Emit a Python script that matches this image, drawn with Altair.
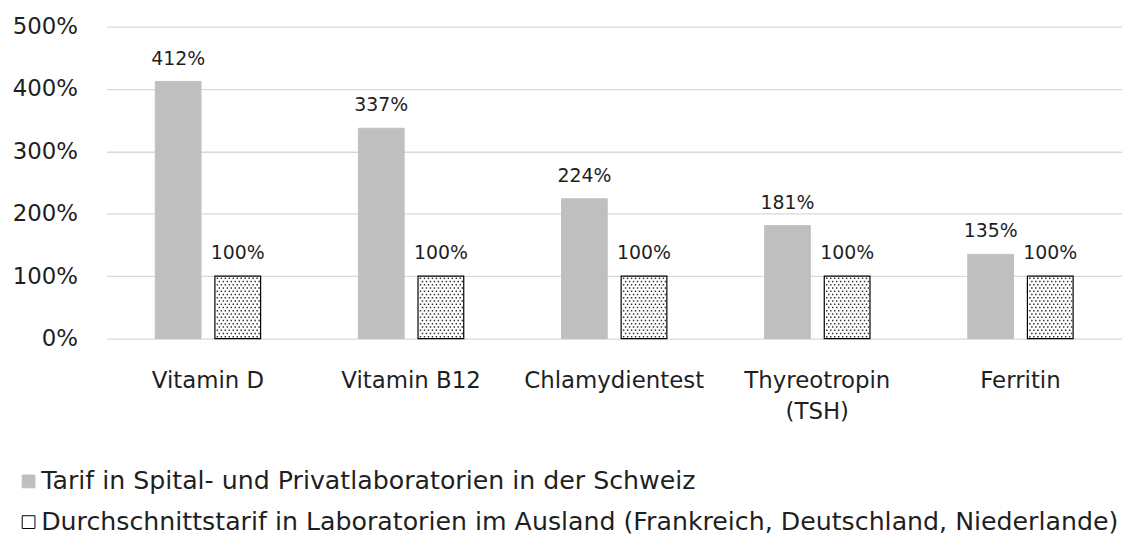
import altair as alt
import pandas as pd

categories = ["Vitamin D", "Vitamin B12", "Chlamydientest", "Thyreotropin (TSH)", "Ferritin"]
series = [
    "Tarif in Spital- und Privatlaboratorien in der Schweiz",
    "Durchschnittstarif in Laboratorien im Ausland (Frankreich, Deutschland, Niederlande)",
]
swiss = [4.12, 3.37, 2.24, 1.81, 1.35]
abroad = [1.00, 1.00, 1.00, 1.00, 1.00]
y_ticks = [0, 1, 2, 3, 4, 5]

FONT = "DejaVu Sans"
TEXT = "#1f1f1f"
PLOT_W = 1022
PLOT_H = 314
BAR_W = 46
OFF = 30

rows = []
for c, a, b in zip(categories, swiss, abroad):
    rows.append({"cat": c, "series": series[0], "value": a})
    rows.append({"cat": c, "series": series[1], "value": b})
df = pd.DataFrame(rows)

# stipple texture for the foreign-tariff bars (derived from the bar values)
band = PLOT_W / len(categories)
dots = []
for i, b in enumerate(abroad):
    r = 0
    yv = 0.03
    while yv < b - 0.02:
        px = 9.5 if r % 2 == 0 else 11.5
        while px <= 51.5:
            dots.append({"xq": i + 0.5 + px / band, "value": yv})
            px += 4
        yv += 0.052
        r += 1
dots_df = pd.DataFrame(dots)

x_enc = alt.X(
    "cat:N",
    sort=categories,
    title=None,
    scale=alt.Scale(paddingInner=0, paddingOuter=0),
    axis=alt.Axis(
        labelAngle=0,
        ticks=False,
        domain=False,
        labelPadding=31,
        labelFontSize=23,
        labelFont=FONT,
        labelColor=TEXT,
        labelLineHeight=31,
        labelLimit=0,
        labelExpr="datum.label == 'Thyreotropin (TSH)' ? ['Thyreotropin', '(TSH)'] : datum.label",
    ),
)
y_enc = alt.Y(
    "value:Q",
    title=None,
    scale=alt.Scale(domain=[0, 5], nice=False),
    axis=alt.Axis(
        values=y_ticks,
        format=".0%",
        ticks=False,
        tickSize=0,
        domain=False,
        labelPadding=29,
        labelFontSize=23,
        labelFont=FONT,
        labelColor=TEXT,
        gridColor="#d9d9d9",
        gridWidth=1.3,
    ),
)
leg = alt.Legend(
    title=None,
    orient="none",
    legendX=-91,
    legendY=445,
    direction="vertical",
    symbolType="square",
    symbolSize=165,
    symbolStrokeWidth=1,
    labelFontSize=25.4,
    labelFont=FONT,
    labelColor=TEXT,
    labelLimit=0,
    labelOffset=0,
    rowPadding=14,
)
fill_enc = alt.Fill("series:N", scale=alt.Scale(domain=series, range=["#bfbfbf", "#ffffff"]), legend=leg)
stroke_enc = alt.Stroke("series:N", scale=alt.Scale(domain=series, range=["#bfbfbf", "#000000"]), legend=leg)

base = alt.Chart(df)
grey = base.transform_filter(alt.datum.series == series[0]).mark_bar(
    width=BAR_W, xOffset=-OFF, strokeWidth=1
).encode(x=x_enc, y=y_enc, fill=fill_enc, stroke=stroke_enc)
dotted = base.transform_filter(alt.datum.series == series[1]).mark_bar(
    width=BAR_W, xOffset=OFF, strokeWidth=1.2
).encode(x=x_enc, y=y_enc, fill=fill_enc, stroke=stroke_enc)
lab_grey = base.transform_filter(alt.datum.series == series[0]).mark_text(
    xOffset=-OFF, dy=-13, baseline="bottom", fontSize=19, font=FONT, color=TEXT
).encode(x=x_enc, y=y_enc, text=alt.Text("value:Q", format=".0%"))
lab_dot = base.transform_filter(alt.datum.series == series[1]).mark_text(
    xOffset=OFF, dy=-13, baseline="bottom", fontSize=19, font=FONT, color=TEXT
).encode(x=x_enc, y=y_enc, text=alt.Text("value:Q", format=".0%"))

inner = alt.layer(grey, dotted, lab_grey, lab_dot)

dot_layer = alt.Chart(dots_df).mark_square(size=2.2, color="#303030", opacity=1).encode(
    x=alt.X("xq:Q", scale=alt.Scale(domain=[0, len(categories)], nice=False, zero=False), axis=None),
    y=alt.Y("value:Q"),
)

chart = (
    alt.layer(inner, dot_layer)
    .resolve_scale(x="independent")
    .properties(
        width=PLOT_W,
        height=PLOT_H,
        autosize=alt.AutoSizeParams(type="none"),
        padding={"left": 99, "top": 17, "right": 0, "bottom": 198},
        background="white",
    )
    .configure_view(stroke=None)
)

chart.save("out.html", embed_options={"renderer": "svg", "actions": False})
